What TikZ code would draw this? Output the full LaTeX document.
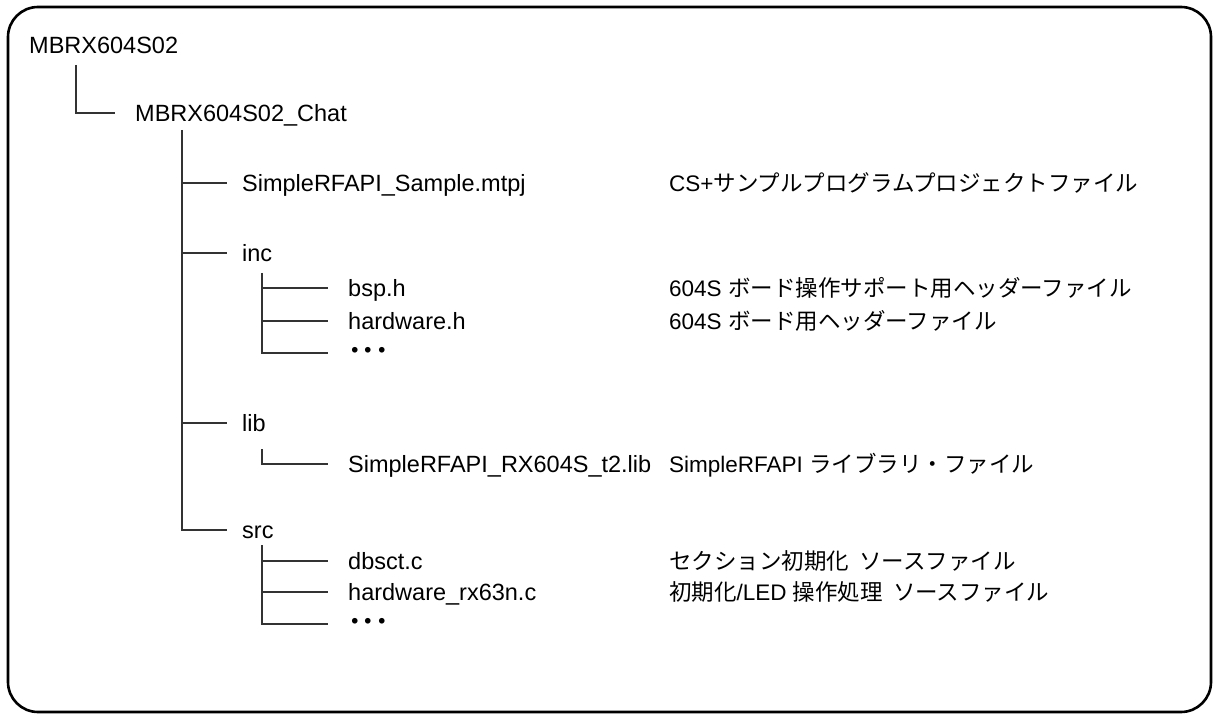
\documentclass[tikz,border=0pt]{standalone}
\usepackage{fontspec}
\setmainfont{Liberation Sans}
\newfontfamily\jp{Noto Sans CJK JP}
\usepackage{tikz}

\begin{document}
\begin{tikzpicture}[x=1pt,y=-1pt,
    every node/.style={anchor=west,inner sep=0pt,text depth=0pt},
    file/.style={font=\fontsize{23.5}{28}\selectfont,text height=16.8pt},
    dots/.style={font=\fontsize{27}{30}\selectfont\jp\bfseries},
    desc/.style={font=\fontsize{22.5}{27}\selectfont,text height=16.3pt},
    tree/.style={line width=1.5pt,black!80}]
      \useasboundingbox (0,0) rectangle (1219,719);
      \draw[line width=2.6pt,rounded corners=30pt] (8,7) rectangle (1211,712);

      % folders and files
      \node[file] (root) at (29,45){MBRX604S02};
      \node[file] (chat) at (135,113){MBRX604S02\_Chat};
      \node[file] (mtpj) at (242,183){SimpleRFAPI\_Sample.mtpj};
      \node[file] (inc) at (242,253){inc};
      \node[file] (bsp) at (348,288){bsp.h};
      \node[file] (hw) at (348,321){hardware.h};
      \node[dots] (incd) at (348,354){･･･};
      \node[file] (lib) at (242,423){lib};
      \node[file] (rflib) at (348,464){SimpleRFAPI\_RX604S\_t2.lib};
      \node[file] (src) at (242,530){src};
      \node[file] (dbsct) at (348,561){dbsct.c};
      \node[file] (hwrx) at (348,592){hardware\_rx63n.c};
      \node[dots] (srcd) at (348,625){･･･};

      % descriptions
      \node[desc] (mtpjtxt) at (669,183){CS+{\jp サンプルプログラムプロジェクトファイル}};
      \node[desc] (bsptxt) at (669,288){604S {\jp ボード操作サポート用ヘッダーファイル}};
      \node[desc] (hwtxt) at (669,321){604S {\jp ボード用ヘッダーファイル}};
      \node[desc] (rflibtxt) at (669,464){SimpleRFAPI {\jp ライブラリ・ファイル}};
      \node[desc] (dbscttxt) at (669,561){\jp セクション初期化\ \ ソースファイル};
      \node[desc] (hwrxtxt) at (669,592){{\jp 初期化}/LED {\jp 操作処理\ \ ソースファイル}};

      % tree lines
      \coordinate (r0) at (76,65);
      \coordinate (c0) at (182,130);
      \coordinate (i0) at (262,273);
      \coordinate (l0) at (262,449);
      \coordinate (s0) at (262,545);

      \draw[tree] (r0) |- ([xshift=-20pt]chat.west);
      \draw[tree] (c0) |- ([xshift=-15pt]src.west);
      \draw[tree] (c0 |- mtpj.west) -- ([xshift=-15pt]mtpj.west);
      \draw[tree] (c0 |- inc.west) -- ([xshift=-15pt]inc.west);
      \draw[tree] (c0 |- lib.west) -- ([xshift=-15pt]lib.west);

      \draw[tree] (i0) |- ([xshift=-20pt,yshift=1pt]incd.west);
      \draw[tree] (i0 |- bsp.west) -- ([xshift=-20pt]bsp.west);
      \draw[tree] (i0 |- hw.west) -- ([xshift=-20pt]hw.west);
      \draw[tree] (l0) |- ([xshift=-20pt]rflib.west);
      \draw[tree] (s0) |- ([xshift=-20pt,yshift=1pt]srcd.west);
      \draw[tree] (s0 |- dbsct.west) -- ([xshift=-20pt]dbsct.west);
      \draw[tree] (s0 |- hwrx.west) -- ([xshift=-20pt]hwrx.west);
\end{tikzpicture}
\end{document}
